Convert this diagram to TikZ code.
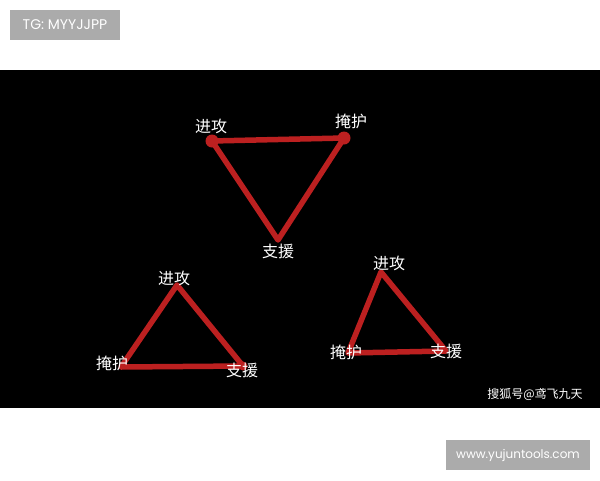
\documentclass[tikz,border=0pt]{standalone}
\usepackage{fontspec}
\setmainfont{Poppins}
\newfontfamily\cjk{Noto Sans CJK SC}
\definecolor{cbc2020}{RGB}{188,32,32}
\definecolor{cababab}{RGB}{171,171,171}

\begin{document}
\begin{tikzpicture}[y=1pt, x=1pt, yscale=-1, inner sep=0pt, outer sep=0pt,
  edge/.style={draw=cbc2020, line width=5.5pt, line cap=round, line join=round},
  corner/.style={fill=cbc2020},
  role/.style={text=white, font=\cjk\fontsize{16}{16}\selectfont},
  tag/.style={text=white, font=\fontsize{12}{12}\selectfont}]
\useasboundingbox (0,0) rectangle (600,480);
\fill[white] (0,0) rectangle (600,480);
\fill[black] (0,70) rectangle (600,408);

% labels top and bottom
\fill[cababab] (10,10) rectangle (120,40);
\node[tag, font=\fontsize{14}{14}\selectfont] (tg) at (65,25) {TG: MYYJJPP};
\fill[cababab] (446,440) rectangle (590,470);
\node[tag] (site) at (518,455) {www.yujuntools.com};
\node[role, font=\cjk\fontsize{12}{12}\selectfont] (mark) at (535,394) {搜狐号@鸢飞九天};

% upper triangle
\coordinate (gA) at (212,141);
\coordinate (hA) at (344,138);
\coordinate (sA) at (278,240);
\draw[edge] (gA) -- (hA) -- (sA) -- cycle;
\fill[corner] (gA) circle (6.5);
\fill[corner] (hA) circle (6.5);
\node[role] (tgA) at (211,126) {进攻};
\node[role] (thA) at (351,121) {掩护};
\node[role] (tsA) at (278,251) {支援};

% left triangle
\coordinate (gB) at (177,285);
\coordinate (hB) at (121,367);
\coordinate (sB) at (243,366);
\draw[edge] (gB) -- (sB) -- (hB) -- cycle;
\fill[corner] (sB) circle (4.5);
\node[role] (tgB) at (174,278) {进攻};
\node[role] (thB) at (112,363) {掩护};
\node[role] (tsB) at (242,370) {支援};

% right triangle
\coordinate (gC) at (381,272);
\coordinate (hC) at (348,353);
\coordinate (sC) at (446,351);
\draw[edge] (gC) -- (sC) -- (hC) -- cycle;
\node[role] (tgC) at (389,263) {进攻};
\node[role] (thC) at (346,352) {掩护};
\node[role] (tsC) at (446,351) {支援};
\end{tikzpicture}
\end{document}
